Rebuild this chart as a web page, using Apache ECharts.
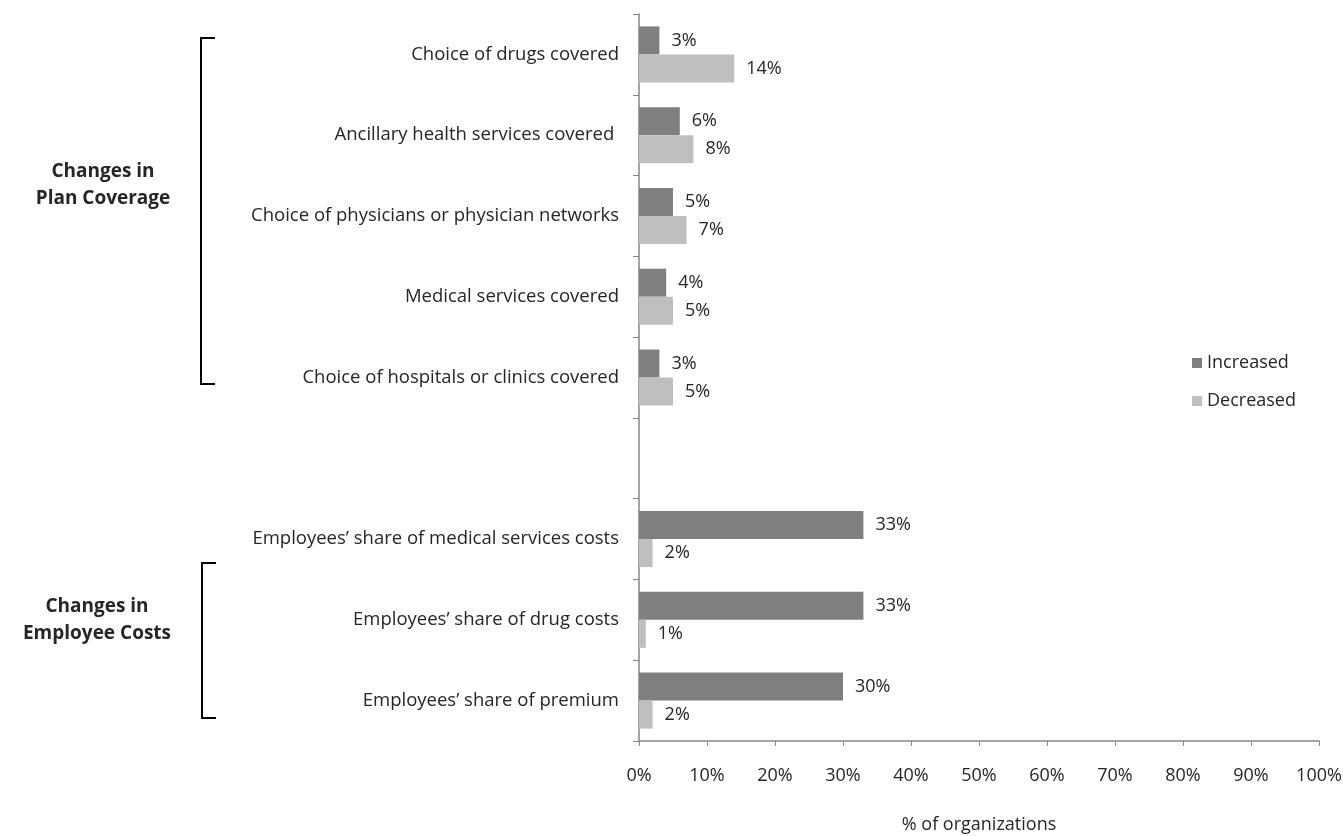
<!DOCTYPE html>
<html>
<head>
<meta charset="utf-8">
<script src="https://cdn.jsdelivr.net/npm/echarts@6/dist/echarts.min.js"></script>
<style>
  html, body { margin: 0; padding: 0; background: #fff; overflow: hidden; }
  #chart { width: 1343px; height: 836px; }
</style>
</head>
<body>
<div id="chart"></div>
<script>
// Survey items, top to bottom; the empty entry separates the two groups.
const categories = [
  'Choice of drugs covered',
  'Ancillary health services covered ',
  'Choice of physicians or physician networks',
  'Medical services covered',
  'Choice of hospitals or clinics covered',
  '',
  'Employees\u2019 share of medical services costs',
  'Employees\u2019 share of drug costs',
  'Employees\u2019 share of premium'
];
const increased = [3, 6, 5, 4, 3, null, 33, 33, 30];
const decreased = [14, 8, 7, 5, 5, null, 2, 1, 2];
const xTicks = { min: 0, max: 100, interval: 10 };
const seriesNames = ['Increased', 'Decreased'];
const groupTitles = ['Changes in\nPlan Coverage', 'Changes in\nEmployee Costs'];

const FONT = '"Open Sans", "Noto Sans", sans-serif';
const TEXT = '#262626';
const AXIS = '#868686';
const FS = 18;

const chart = echarts.init(document.getElementById('chart'), null, { renderer: 'canvas' });

function barLabel() {
  return {
    show: true,
    position: 'right',
    distance: 12,
    color: TEXT,
    fontFamily: FONT,
    fontSize: FS,
    formatter: p => p.value == null ? '' : p.value + '%'
  };
}

function bracket(top, bottom, x) {
  return {
    type: 'polyline',
    shape: { points: [[x + 14, top], [x, top], [x, bottom], [x + 14, bottom]] },
    style: { stroke: '#000', lineWidth: 2, fill: null }
  };
}

function groupText(text, cx, cy) {
  return {
    type: 'text',
    x: cx, y: cy,
    style: {
      text: text,
      fill: TEXT,
      font: 'bold 19px ' + FONT,
      align: 'center',
      verticalAlign: 'middle',
      lineHeight: 27
    }
  };
}

chart.setOption({
  animation: false,
  textStyle: { fontFamily: FONT },
  grid: { left: 639, right: 24, top: 14, height: 727, containLabel: false, outerBoundsMode: 'none' },
  legend: {
    orient: 'vertical',
    left: 1187,
    top: 349,
    itemWidth: 10,
    itemHeight: 10,
    itemGap: 20,
    icon: 'rect',
    textStyle: { color: TEXT, fontFamily: FONT, fontSize: FS, lineHeight: 18 },
    data: seriesNames
  },
  xAxis: {
    type: 'value',
    min: xTicks.min,
    max: xTicks.max,
    interval: xTicks.interval,
    name: '% of organizations',
    nameLocation: 'middle',
    nameGap: 75,
    nameTextStyle: { color: TEXT, fontFamily: FONT, fontSize: FS },
    axisLine: { show: true, lineStyle: { color: AXIS, width: 1.5 } },
    axisTick: { show: true, length: 5, lineStyle: { color: AXIS } },
    axisLabel: { color: TEXT, fontFamily: FONT, fontSize: FS, margin: 26, formatter: '{value}%' },
    splitLine: { show: false }
  },
  yAxis: {
    type: 'category',
    inverse: true,
    data: categories,
    axisLine: { show: true, lineStyle: { color: AXIS, width: 1.5 } },
    axisTick: { show: true, length: 6, lineStyle: { color: AXIS } },
    axisLabel: { color: TEXT, fontFamily: FONT, fontSize: 18.5, margin: 20 }
  },
  series: [
    {
      name: seriesNames[0],
      type: 'bar',
      data: increased,
      barWidth: 28,
      barGap: '0%',
      itemStyle: { color: '#7f7f7f' },
      label: barLabel()
    },
    {
      name: seriesNames[1],
      type: 'bar',
      data: decreased,
      barWidth: 28,
      barGap: '0%',
      itemStyle: { color: '#bfbfbf' },
      label: barLabel()
    }
  ],
  graphic: [
    bracket(38, 384, 201),
    bracket(563, 718, 202),
    groupText(groupTitles[0], 103, 185),
    groupText(groupTitles[1], 97, 620)
  ]
});
</script>
</body>
</html>
